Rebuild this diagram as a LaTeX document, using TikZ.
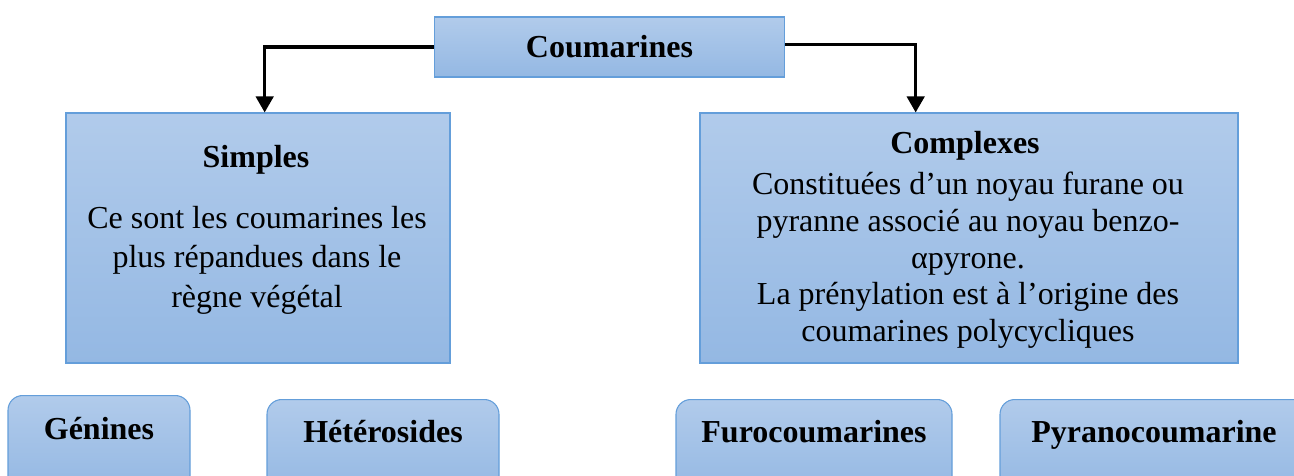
\documentclass[tikz,border=0pt]{standalone}
\usepackage{fontspec}
\setmainfont{Liberation Serif}
\usetikzlibrary{arrows.meta}
\definecolor{boxtop}{RGB}{177,203,235}
\definecolor{boxbot}{RGB}{148,184,227}
\definecolor{boxline}{RGB}{100,158,218}
\tikzset{
  bluebox/.style={draw=boxline, line width=0.8pt, top color=boxtop, bottom color=boxbot,
    inner sep=0pt},
  leafbox/.style={bluebox, rounded corners=11pt, anchor=north, text height=32.5pt,
    text depth=38pt, font=\fontsize{24}{28}\selectfont\bfseries},
  bodytext/.style={align=center, inner sep=0pt, anchor=north},
  link/.style={line width=2.5pt, -{Triangle[width=13pt,length=12pt]}}
}
\begin{document}
\begin{tikzpicture}[x=0.75pt, y=-0.75pt]
    \useasboundingbox (0,0) rectangle (1294,475);
    \clip (0,0) rectangle (1294,475);
    % top of the tree
    \node[bluebox, minimum width=263pt, minimum height=45pt,
      font=\fontsize{24}{28}\selectfont\bfseries] (coum) at (609.5,47) {Coumarines};
    % the two families
    \node[bluebox, minimum width=288pt, minimum height=187.5pt] (simples) at (258,238) {};
    \node[bluebox, minimum width=403.5pt, minimum height=187.5pt] (complexes) at (969,238) {};
    \node[anchor=base, font=\fontsize{24}{28}\selectfont\bfseries] (simpleshead) at (256,167) {Simples};
    \node[bodytext, font=\fontsize{24}{29.6}\selectfont] (simplesbody) at (257,206)
      {Ce sont les coumarines les\\plus répandues dans le\\règne végétal};
    \node[anchor=base, font=\fontsize{24}{28}\selectfont\bfseries] (complexeshead) at (965,153) {Complexes};
    \node[bodytext, font=\fontsize{24}{27.5}\selectfont] (complexesbody) at (968,172)
      {Constituées d’un noyau furane ou\\pyranne associé au noyau benzo-\\αpyrone.\\
       La prénylation est à l’origine des\\coumarines polycycliques};
    % the four kinds
    \node[leafbox, minimum width=136.5pt, text height=33pt] (genines) at (99,395) {Génines};
    \node[leafbox, minimum width=174pt] (heterosides) at (383,399) {Hétérosides};
    \node[leafbox, minimum width=207pt] (furo) at (814,399) {Furocoumarines};
    \node[leafbox, minimum width=231pt] (pyrano) at (1154,399) {Pyranocoumarine};
    % connectors
    \draw[link] (coum.west) -| ([xshift=5pt]simples.north);
    \draw[link] ([yshift=2pt]coum.east) -| ([xshift=-40pt]complexes.north);
\end{tikzpicture}
\end{document}
